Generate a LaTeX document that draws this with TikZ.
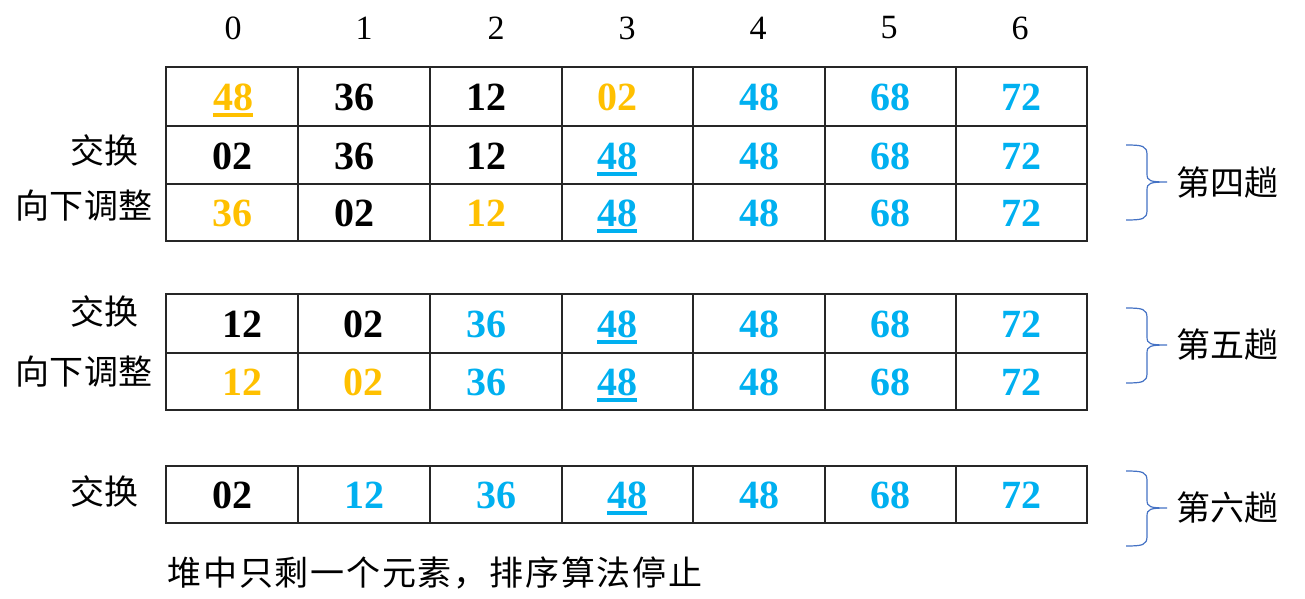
\documentclass[tikz,border=0pt]{standalone}
\usepackage{fontspec}
\setmainfont{Liberation Serif}
\newfontfamily\cjk{Noto Sans CJK SC}
\newfontfamily\cjksp[LetterSpace=5.2]{Noto Sans CJK SC}
\definecolor{orng}{HTML}{FFC000}
\definecolor{sky}{HTML}{00B0F0}
\definecolor{brc}{HTML}{4472C4}
\begin{document}
\begin{tikzpicture}[x=1pt,y=-1pt,
  num/.style={font=\fontsize{40}{40}\selectfont\bfseries, inner sep=0pt},
  idx/.style={font=\fontsize{34}{34}\selectfont, inner sep=0pt},
  lab/.style={font=\cjk\fontsize{34}{34}\selectfont, inner sep=0pt},
  gridline/.style={line width=1.3pt, draw=black!85},
  bracepath/.style={draw=brc, line width=1.2pt},
  ulin/.style={line width=3.5pt}]
\useasboundingbox (0,0) rectangle (1305,599);
% index row
\foreach \x/\t in {233/0,364/1,496/2,627/3,758/4,889/5,1020/6}
  \node[idx] (i\t) at (\x,28) {\t};
% grids
\draw[gridline] (166,67) rectangle (1087,241);
\draw[gridline] (166,126) -- (1087,126);
\draw[gridline] (166,184) -- (1087,184);
\draw[gridline] (166,294) rectangle (1087,410);
\draw[gridline] (166,353) -- (1087,353);
\draw[gridline] (166,466) rectangle (1087,523);
\foreach \x in {298,430,562,693,825,956}{
  \draw[gridline] (\x,67) -- (\x,241);
  \draw[gridline] (\x,294) -- (\x,410);
  \draw[gridline] (\x,466) -- (\x,523);
}
% table 1 row 1
\node[num,text=orng] (a1) at (233,97) {48};
\node[num] (a2) at (354,97) {36};
\node[num] (a3) at (486,97) {12};
\node[num,text=orng] (a4) at (617,97) {02};
\node[num,text=sky] (a5) at (759,97) {48};
\node[num,text=sky] (a6) at (890,97) {68};
\node[num,text=sky] (a7) at (1021,97) {72};
% row 2
\node[num] (b1) at (232,156) {02};
\node[num] (b2) at (354,156) {36};
\node[num] (b3) at (486,156) {12};
\node[num,text=sky] (b4) at (617,156) {48};
\node[num,text=sky] (b5) at (759,156) {48};
\node[num,text=sky] (b6) at (890,156) {68};
\node[num,text=sky] (b7) at (1021,156) {72};
% row 3
\node[num,text=orng] (c1) at (232,213) {36};
\node[num] (c2) at (354,213) {02};
\node[num,text=orng] (c3) at (486,213) {12};
\node[num,text=sky] (c4) at (617,213) {48};
\node[num,text=sky] (c5) at (759,213) {48};
\node[num,text=sky] (c6) at (890,213) {68};
\node[num,text=sky] (c7) at (1021,213) {72};
% table 2
\node[num] (d1) at (242,324) {12};
\node[num] (d2) at (363,324) {02};
\node[num,text=sky] (d3) at (486,324) {36};
\node[num,text=sky] (d4) at (617,324) {48};
\node[num,text=sky] (d5) at (759,324) {48};
\node[num,text=sky] (d6) at (890,324) {68};
\node[num,text=sky] (d7) at (1021,324) {72};
\node[num,text=orng] (e1) at (242,382) {12};
\node[num,text=orng] (e2) at (363,382) {02};
\node[num,text=sky] (e3) at (486,382) {36};
\node[num,text=sky] (e4) at (617,382) {48};
\node[num,text=sky] (e5) at (759,382) {48};
\node[num,text=sky] (e6) at (890,382) {68};
\node[num,text=sky] (e7) at (1021,382) {72};
% table 3
\node[num] (f1) at (232,495) {02};
\node[num,text=sky] (f2) at (364,495) {12};
\node[num,text=sky] (f3) at (496,495) {36};
\node[num,text=sky] (f4) at (627,495) {48};
\node[num,text=sky] (f5) at (759,495) {48};
\node[num,text=sky] (f6) at (890,495) {68};
\node[num,text=sky] (f7) at (1021,495) {72};
% underlines
\draw[ulin,orng] ([yshift=-5pt]a1.base west) -- ([yshift=-5pt]a1.base east);
\foreach \n in {b4,c4,d4,e4,f4}
  \draw[ulin,sky] ([yshift=-5pt]\n.base west) -- ([yshift=-5pt]\n.base east);
% left labels
\node[lab] (s1) at (104,150) {交换};
\node[lab] (t1) at (84,206) {向下调整};
\node[lab] (s2) at (104,311) {交换};
\node[lab] (t2) at (84,372) {向下调整};
\node[lab] (s3) at (104,491) {交换};
% braces
\foreach \yt/\ym/\yb in {145/182/220, 308/345/383, 471/508/546}{
  \draw[bracepath] (1126,\yt) .. controls (1143,\yt) and (1147,\yt+1) .. (1147,\yt+10)
    -- (1147,\ym-8) .. controls (1147,\ym-1) and (1150,\ym) .. (1167,\ym)
    .. controls (1150,\ym) and (1147,\ym+1) .. (1147,\ym+8)
    -- (1147,\yb-10) .. controls (1147,\yb-1) and (1143,\yb) .. (1126,\yb);
}
\node[lab] (r4) at (1227,183) {第四趟};
\node[lab] (r5) at (1227,345) {第五趟};
\node[lab] (r6) at (1227,508) {第六趟};
% bottom text
\node[inner sep=0pt, font=\cjksp\fontsize{34}{34}\selectfont] (note) at (435,573) {堆中只剩一个元素，排序算法停止};
\end{tikzpicture}
\end{document}
